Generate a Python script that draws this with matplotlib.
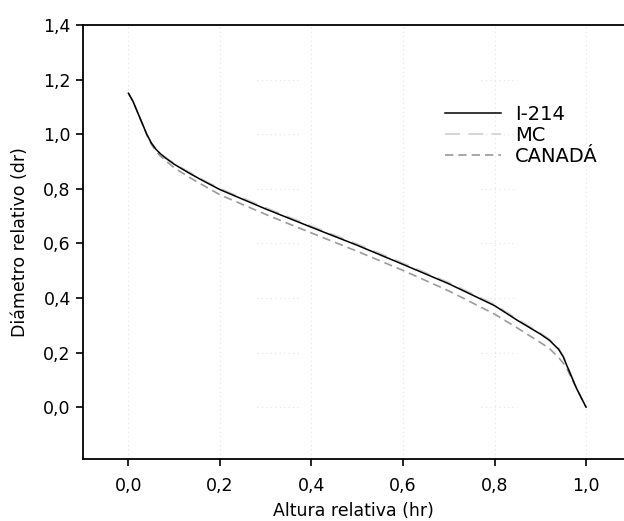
import matplotlib.pyplot as plt
import numpy as np

# relative height (hr) vs relative diameter (dr) for three taper models
hr = [0.0, 0.01, 0.02, 0.03, 0.04, 0.05, 0.06, 0.07, 0.08, 0.10, 0.13, 0.16, 0.20,
      0.30, 0.40, 0.50, 0.60, 0.70, 0.80, 0.85, 0.90, 0.92, 0.94, 0.95, 0.96,
      0.97, 0.98, 0.99, 1.0]
dr_i214 = [1.15, 1.12, 1.08, 1.04, 1.0, 0.968, 0.945, 0.928, 0.914, 0.89, 0.86, 0.832, 0.797,
           0.726, 0.659, 0.593, 0.523, 0.452, 0.372, 0.318, 0.268, 0.245, 0.212, 0.185, 0.145,
           0.105, 0.066, 0.033, 0.0]
dr_mc = [1.15, 1.12, 1.08, 1.04, 1.0, 0.968, 0.946, 0.93, 0.917, 0.893, 0.864, 0.836, 0.801,
         0.731, 0.664, 0.598, 0.528, 0.457, 0.377, 0.323, 0.272, 0.249, 0.217, 0.19, 0.15,
         0.108, 0.068, 0.034, 0.0]
dr_canada = [1.15, 1.12, 1.08, 1.04, 0.998, 0.963, 0.938, 0.92, 0.905, 0.877, 0.845, 0.816, 0.778,
             0.706, 0.638, 0.571, 0.501, 0.426, 0.341, 0.29, 0.237, 0.215, 0.182, 0.162, 0.135,
             0.1, 0.066, 0.033, 0.0]

xticks = [0.0, 0.2, 0.4, 0.6, 0.8, 1.0]
yticks = [0.0, 0.2, 0.4, 0.6, 0.8, 1.0, 1.2, 1.4]

plt.rcParams['font.family'] = 'DejaVu Sans'

fig = plt.figure(figsize=(6.24, 5.21), dpi=100)
ax = fig.add_axes([0.1325, 0.119, 0.8675, 0.833])

# faint dotted grid
for xt in xticks:
    ax.axvline(xt, color='#e4e4e4', linestyle=(0, (1, 3)), linewidth=0.8, zorder=0)
for yt in yticks:
    ax.hlines(yt, 0.28, 0.37, color='#e4e4e4', linestyle=(0, (1, 3)), linewidth=0.8, zorder=0)
    ax.hlines(yt, 0.77, 0.85, color='#e4e4e4', linestyle=(0, (1, 3)), linewidth=0.8, zorder=0)

ax.plot(hr, dr_i214, color='black', linewidth=1.1, label='I-214', zorder=3)
ax.plot(hr, dr_mc, color='#d0d0d0', linewidth=1.2, linestyle=(0, (9, 5)), label='MC', zorder=2)
ax.plot(hr, dr_canada, color='#9a9a9a', linewidth=1.2, linestyle=(0, (5, 3)), label='CANADÁ', zorder=2)

ax.set_xlim(-0.1, 1.083)
ax.set_ylim(-0.19, 1.4)
ax.set_xticks(xticks)
ax.set_xticklabels([f'{v:.1f}'.replace('.', ',') for v in xticks])
ax.set_yticks(yticks)
ax.set_yticklabels([f'{v:.1f}'.replace('.', ',') for v in yticks])
ax.tick_params(direction='out', length=5, width=1.2, labelsize=12.5, colors='black')
ax.tick_params(axis='x', pad=8)

ax.spines['right'].set_visible(False)
for s in ['left', 'top', 'bottom']:
    ax.spines[s].set_linewidth(1.3)

ax.set_xlabel('Altura relativa (hr)', fontsize=12.5, labelpad=5)
ax.set_ylabel('Diámetro relativo (dr)', fontsize=12.5, labelpad=10)

ax.legend(loc='upper left', bbox_to_anchor=(0.655, 0.834), frameon=False,
          fontsize=14, handlelength=2.9, labelspacing=0.1, handletextpad=0.7,
          borderaxespad=0)

fig.savefig('out.png', dpi=100)
